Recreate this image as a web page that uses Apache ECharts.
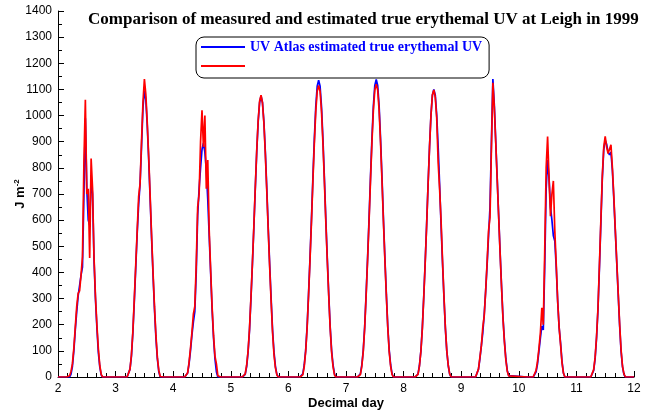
<!DOCTYPE html>
<html>
<head>
<meta charset="utf-8">
<script src="https://cdn.jsdelivr.net/npm/echarts@6/dist/echarts.min.js"></script>
<style>
  html, body { margin: 0; padding: 0; background: #fff; }
  #chart { width: 653px; height: 415px; }
</style>
</head>
<body>
<div id="chart"></div>
<script>
// each day is sampled from day+0.15 to day+0.85, one value every 0.025 day
const days = [2, 3, 4, 5, 6, 7, 8, 9, 10, 11]
const sampleStart = 0.15
const sampleStep = 0.025

// UV Atlas estimated true erythemal UV (blue)
const estimated = [
  [0, 0, 0, 10, 40, 100, 180, 250, 310, 350, 390, 420, 700, 990, 720, 600, 580, 760, 700, 450, 300, 190, 95, 40, 8, 0, 0, 0, 0],
  [0, 0, 0, 5, 30, 80, 170, 290, 420, 550, 660, 740, 880, 1030, 1095, 1060, 960, 830, 680, 530, 390, 260, 150, 70, 20, 0, 0, 0, 0],
  [0, 0, 0, 0, 15, 50, 100, 160, 210, 250, 400, 620, 720, 800, 870, 895, 860, 790, 680, 540, 400, 260, 150, 70, 20, 0, 0, 0, 0],
  [0, 0, 0, 0, 10, 40, 95, 180, 300, 430, 570, 720, 860, 975, 1050, 1075, 1050, 975, 860, 720, 570, 430, 300, 180, 95, 40, 10, 0, 0],
  [0, 0, 0, 0, 12, 46, 102, 193, 318, 454, 602, 760, 908, 1033, 1112, 1135, 1112, 1033, 908, 760, 602, 454, 318, 193, 102, 46, 12, 0, 0],
  [0, 0, 0, 0, 12, 46, 103, 194, 320, 456, 604, 763, 910, 1036, 1115, 1138, 1115, 1036, 910, 763, 604, 456, 320, 194, 103, 46, 12, 0, 0],
  [0, 0, 0, 0, 11, 44, 99, 187, 308, 440, 583, 737, 880, 1001, 1078, 1100, 1078, 1001, 880, 737, 583, 440, 308, 187, 99, 44, 11, 0, 0],
  [0, 0, 0, 0, 0, 5, 30, 70, 120, 170, 240, 330, 430, 540, 650, 900, 1140, 1040, 900, 760, 620, 480, 350, 230, 140, 70, 25, 5, 0],
  [0, 0, 0, 0, 0, 3, 20, 50, 100, 150, 195, 180, 420, 720, 830, 760, 650, 600, 540, 520, 420, 290, 190, 130, 60, 15, 0, 0, 0],
  [0, 0, 0, 0, 0, 5, 25, 70, 150, 260, 420, 590, 760, 870, 905, 890, 860, 850, 860, 790, 680, 560, 440, 320, 200, 100, 40, 10, 0]
]

// measured (red)
const measured = [
  [0, 0, 5, 20, 50, 110, 190, 270, 320, 330, 390, 460, 820, 1060, 700, 720, 455, 836, 720, 460, 310, 200, 110, 45, 10, 0, 0, 0, 0],
  [0, 0, 0, 5, 30, 85, 175, 300, 430, 560, 690, 740, 900, 1050, 1140, 1080, 970, 840, 690, 540, 400, 270, 160, 75, 25, 2, 0, 0, 0],
  [0, 0, 0, 0, 15, 55, 110, 170, 240, 270, 430, 650, 700, 900, 1020, 880, 1000, 720, 830, 560, 410, 270, 160, 80, 50, 5, 0, 0, 0],
  [0, 0, 0, 0, 12, 45, 100, 185, 305, 435, 575, 725, 865, 980, 1055, 1078, 1048, 970, 850, 710, 560, 420, 290, 170, 85, 35, 8, 0, 0],
  [0, 0, 0, 0, 8, 40, 98, 188, 312, 446, 591, 747, 892, 1015, 1093, 1115, 1093, 1015, 892, 747, 591, 446, 312, 188, 95, 40, 8, 0, 0],
  [0, 0, 0, 0, 9, 42, 99, 190, 314, 449, 594, 750, 896, 1020, 1098, 1120, 1098, 1020, 896, 750, 594, 449, 314, 190, 97, 41, 9, 0, 0],
  [0, 0, 0, 0, 10, 42, 97, 184, 305, 436, 580, 735, 878, 1000, 1080, 1098, 1070, 990, 820, 720, 600, 450, 312, 190, 100, 45, 12, 0, 0],
  [0, 0, 0, 0, 0, 5, 30, 75, 120, 190, 235, 330, 440, 560, 610, 880, 1125, 1030, 895, 755, 615, 475, 345, 225, 135, 65, 22, 4, 0],
  [0, 0, 0, 0, 0, 5, 25, 60, 110, 170, 265, 200, 480, 800, 920, 760, 615, 700, 750, 560, 430, 290, 190, 125, 55, 15, 0, 0, 0],
  [0, 0, 0, 0, 0, 6, 28, 75, 155, 265, 430, 600, 770, 880, 920, 880, 855, 860, 888, 800, 690, 565, 445, 325, 205, 105, 42, 12, 0]
]

const xMin = 2
const xMax = 12

function toPoints(perDay) {
  const pts = [[xMin, 0]]
  days.forEach((d, k) => {
    perDay[k].forEach((v, i) => {
      pts.push([+(d + sampleStart + i * sampleStep).toFixed(3), v])
    })
  })
  pts.push([xMax, 0])
  return pts
}

const chart = echarts.init(document.getElementById('chart'))
const sans = 'Liberation Sans'
const serif = 'Liberation Serif'

chart.setOption({
  animation: false,
  title: {
    text: 'Comparison of measured and estimated true erythemal UV at Leigh in 1999',
    left: 83,
    top: 6,
    textStyle: { fontFamily: serif, fontWeight: 'bold', fontSize: 17, color: '#000' }
  },
  legend: {
    left: 196,
    top: 37,
    orient: 'vertical',
    padding: [3, 7, 5, 5],
    itemGap: 5,
    itemWidth: 44,
    itemHeight: 2,
    icon: 'rect',
    borderColor: '#000',
    borderWidth: 1,
    borderRadius: 8,
    formatter: (name) => (name === 'Measured' ? ' ' : name),
    textStyle: { fontFamily: serif, fontWeight: 'bold', fontSize: 14, color: '#0000ff', lineHeight: 14 },
    data: ['UV Atlas estimated true erythemal UV', 'Measured']
  },
  grid: { left: 58, right: 19, top: 11, bottom: 38, outerBoundsMode: 'none' },
  xAxis: {
    type: 'value',
    min: xMin,
    max: xMax,
    interval: 1,
    name: 'Decimal day',
    nameLocation: 'middle',
    nameGap: 20,
    nameMoveOverlap: false,
    nameTextStyle: { fontFamily: sans, fontWeight: 'bold', fontSize: 13, color: '#000' },
    axisLine: { lineStyle: { color: '#000', width: 1 } },
    axisTick: { inside: true, length: 6, lineStyle: { color: '#000' } },
    minorTick: { show: true, splitNumber: 6, length: 4, lineStyle: { color: '#000' } },
    axisLabel: { fontFamily: sans, fontSize: 12, color: '#000', margin: 6 },
    splitLine: { show: false }
  },
  yAxis: {
    type: 'value',
    min: 0,
    max: 1400,
    interval: 100,
    name: '{n|J m}{s|-2}',
    nameLocation: 'middle',
    nameGap: 31,
    nameMoveOverlap: false,
    nameTextStyle: {
      rich: {
        n: { fontFamily: sans, fontWeight: 'bold', fontSize: 13, color: '#000' },
        s: { fontFamily: sans, fontWeight: 'bold', fontSize: 8, color: '#000', verticalAlign: 'top', padding: [0, 0, 6, 0] }
      }
    },
    axisLine: { show: true, lineStyle: { color: '#000', width: 1 } },
    axisTick: { inside: true, length: 6, lineStyle: { color: '#000' } },
    minorTick: { show: true, splitNumber: 2, length: 4, lineStyle: { color: '#000' } },
    axisLabel: { fontFamily: sans, fontSize: 12, color: '#000', margin: 6, formatter: (v) => String(v) },
    splitLine: { show: false }
  },
  series: [
    {
      name: 'UV Atlas estimated true erythemal UV',
      type: 'line',
      showSymbol: false,
      symbol: 'none',
      data: toPoints(estimated),
      color: '#0000ff',
      lineStyle: { color: '#0000ff', width: 1.7 }
    },
    {
      name: 'Measured',
      type: 'line',
      showSymbol: false,
      symbol: 'none',
      data: toPoints(measured),
      color: '#ff0000',
      lineStyle: { color: '#ff0000', width: 1.7 }
    }
  ]
})
</script>
</body>
</html>
